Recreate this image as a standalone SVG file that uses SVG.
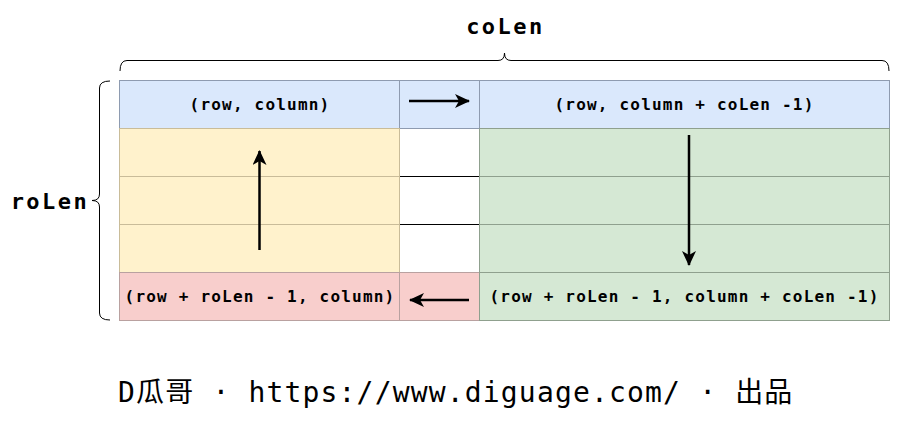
<svg xmlns="http://www.w3.org/2000/svg" width="900" height="421" viewBox="0 0 900 421">
<style>
.cell{stroke-width:1}
.b{fill:#dae8fc;stroke:#8e9bb0}
.y{fill:#fff2cc;stroke:#c9bc99}
.g{fill:#d5e8d4;stroke:#8fa08e}
.r{fill:#f8cecc;stroke:#b9a1a0}
.w{fill:#ffffff;stroke:#000000}
.lbl{font-family:"DejaVu Sans Mono","Liberation Mono",monospace;font-weight:bold;font-size:16px;letter-spacing:1.2px;fill:#000;text-anchor:middle}
.big{font-family:"DejaVu Sans Mono","Liberation Mono",monospace;font-weight:bold;font-size:22px;letter-spacing:2.5px;fill:#000}
.brace{fill:none;stroke:#000;stroke-width:1}
.arrow{fill:none;stroke:#000;stroke-width:2.5;marker-end:url(#ah)}
.foot{font-family:"DejaVu Sans Mono","Liberation Mono","Noto Sans CJK SC",monospace;font-size:28px;letter-spacing:1.17px;fill:#000}
</style>
<defs>
<marker id="ah" markerUnits="userSpaceOnUse" viewBox="0 0 15 14" refX="14" refY="7" markerWidth="15" markerHeight="14" orient="auto">
<path d="M0,0 L15,7 L0,14 L4,7 Z" fill="#000"/>
</marker>
</defs>
<rect width="900" height="421" fill="#ffffff"/>

<g id="mid-1"><rect class="cell w" x="399.5" y="128.5" width="80" height="48"/></g>
<g id="mid-2"><rect class="cell w" x="399.5" y="176.5" width="80" height="48"/></g>
<g id="mid-3"><rect class="cell w" x="399.5" y="224.5" width="80" height="48"/></g>

<g id="top-left"><rect class="cell b" x="119.5" y="80.5" width="280" height="48"/>
<text class="lbl" x="260" y="110">(row, column)</text></g>
<g id="top-mid"><rect class="cell b" x="399.5" y="80.5" width="80" height="48"/></g>
<g id="top-right"><rect class="cell b" x="479.5" y="80.5" width="410" height="48"/>
<text class="lbl" x="684.5" y="110">(row, column + coLen -1)</text></g>

<g id="left-1"><rect class="cell y" x="119.5" y="128.5" width="280" height="48"/></g>
<g id="left-2"><rect class="cell y" x="119.5" y="176.5" width="280" height="48"/></g>
<g id="left-3"><rect class="cell y" x="119.5" y="224.5" width="280" height="48"/></g>

<g id="right-1"><rect class="cell g" x="479.5" y="128.5" width="410" height="48"/></g>
<g id="right-2"><rect class="cell g" x="479.5" y="176.5" width="410" height="48"/></g>
<g id="right-3"><rect class="cell g" x="479.5" y="224.5" width="410" height="48"/></g>

<g id="bottom-left"><rect class="cell r" x="119.5" y="272.5" width="280" height="48"/>
<text class="lbl" x="260" y="302">(row + roLen - 1, column)</text></g>
<g id="bottom-mid"><rect class="cell r" x="399.5" y="272.5" width="80" height="48"/></g>
<g id="bottom-right"><rect class="cell g" x="479.5" y="272.5" width="410" height="48"/>
<text class="lbl" x="684.5" y="302">(row + roLen - 1, column + coLen -1)</text></g>

<g id="brace-top">
<path class="brace" d="M120,71 Q120,60.5 127,60.5 L498,60.5 Q504.5,60.5 504.5,53 Q504.5,60.5 511,60.5 L882,60.5 Q889,60.5 889,71"/>
<text class="big" x="505.5" y="34" text-anchor="middle">coLen</text>
</g>
<g id="brace-left">
<path class="brace" d="M110,81 Q99.5,81 99.5,88 L99.5,194 Q99.5,200.5 92,200.5 Q99.5,200.5 99.5,207 L99.5,313 Q99.5,320 110,320"/>
<text class="big" x="50" y="209" text-anchor="middle">roLen</text>
</g>

<g id="connectors">
<line class="arrow" x1="409" y1="101" x2="469" y2="101"/>
<line class="arrow" x1="689" y1="135" x2="689" y2="265"/>
<line class="arrow" x1="469" y1="300" x2="410" y2="300"/>
<line class="arrow" x1="259.5" y1="250" x2="259.5" y2="151"/>
</g>

<text class="foot" x="118" y="402">D瓜哥 · https://www.diguage.com/ · 出品</text>
</svg>
